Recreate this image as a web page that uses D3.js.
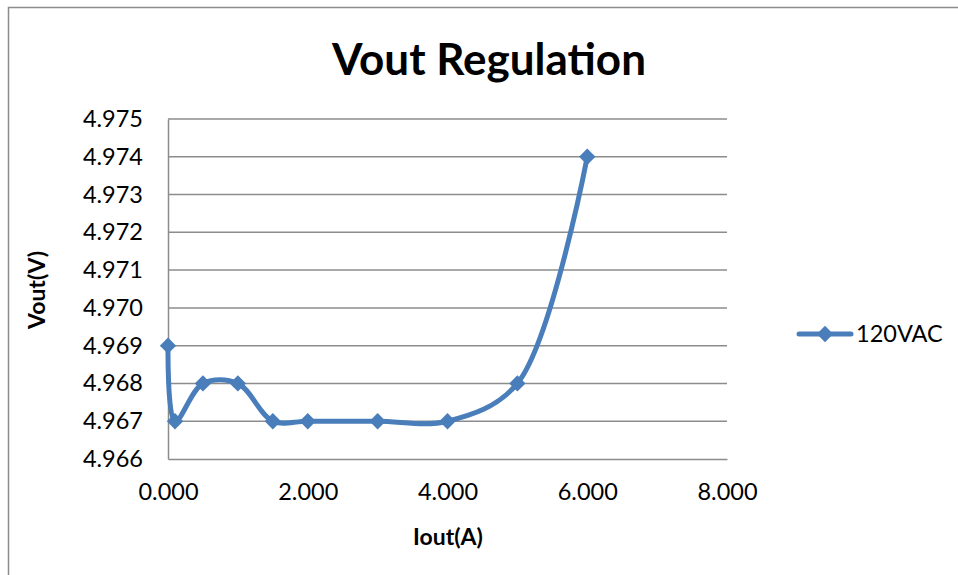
<!DOCTYPE html>
<html>
<head>
<meta charset="utf-8">
<title>Vout Regulation</title>
<script src="https://d3js.org/d3.v7.min.js"></script>
<style>
  body { margin: 0; background: #fff; }
  text { font-family: Lato, "Open Sans", sans-serif; fill: #000; }
  .grid line { stroke: #8c8c8c; stroke-width: 1.5; }
  .axis path { stroke: #8c8c8c; stroke-width: 1.5; }
  .axis line { display: none; }
</style>
</head>
<body>
<div id="chart"></div>
<script>
// data
const iout = [0, 0.1, 0.5, 1.0, 1.5, 2.0, 3.0, 4.0, 5.0, 6.0];
const vout = [4.969, 4.967, 4.968, 4.968, 4.967, 4.967, 4.967, 4.967, 4.968, 4.974];
const seriesName = "120VAC";
const xTicks = [0, 2, 4, 6, 8];
const yTicks = [4.966, 4.967, 4.968, 4.969, 4.970, 4.971, 4.972, 4.973, 4.974, 4.975];

const width = 958, height = 575;
const plot = {left: 168, right: 727, top: 119, bottom: 459};
const blue = "#4a7ebb";

const svg = d3.select("#chart").append("svg")
    .attr("width", width)
    .attr("height", height);

// outer chart border (only top and left visible in the original)
svg.append("rect")
    .attr("x", 8.5).attr("y", 7.5)
    .attr("width", 1000).attr("height", 1000)
    .attr("fill", "none")
    .attr("stroke", "#8c8c8c")
    .attr("stroke-width", 1.5);

let x = d3.scaleLinear().domain([0, 8]).range([plot.left, plot.right]);
let y = d3.scaleLinear().domain([4.966, 4.975]).range([plot.bottom, plot.top]);

// horizontal gridlines
svg.append("g")
    .attr("class", "grid")
  .selectAll("line")
    .data(yTicks.slice(1))
  .enter().append("line")
    .attr("x1", plot.left).attr("x2", plot.right)
    .attr("y1", d => y(d)).attr("y2", d => y(d));

// axes
svg.append("g")
    .attr("class", "axis")
    .attr("transform", "translate(0," + plot.bottom + ")")
    .call(d3.axisBottom(x).tickValues(xTicks).tickFormat(d3.format(".3f")).tickSize(0).tickPadding(24))
    .call(g => g.selectAll("text").style("font-size", "23.5px"));

svg.append("g")
    .attr("class", "axis")
    .attr("transform", "translate(" + plot.left + ",0)")
    .call(d3.axisLeft(y).tickValues(yTicks).tickFormat(d3.format(".3f")).tickSize(0).tickPadding(25))
    .call(g => g.selectAll("text").style("font-size", "23.5px"));

svg.selectAll(".axis .domain").attr("stroke", "#8c8c8c");

// title and axis titles
svg.append("text")
    .attr("x", 489).attr("y", 75)
    .attr("text-anchor", "middle")
    .style("font-size", "44px")
    .style("font-weight", "bold")
    .text("Vout Regulation");

svg.append("text")
    .attr("x", 448).attr("y", 545)
    .attr("text-anchor", "middle")
    .style("font-size", "23px")
    .style("font-weight", "bold")
    .text("Iout(A)");

svg.append("text")
    .attr("transform", "translate(45,290) rotate(-90)")
    .attr("text-anchor", "middle")
    .style("font-size", "23px")
    .style("font-weight", "bold")
    .text("Vout(V)");

// series
const points = iout.map((d, i) => [d, vout[i]]);

const line = d3.line()
    .x(d => x(d[0]))
    .y(d => y(d[1]))
    .curve(d3.curveCatmullRom.alpha(0.5));

svg.append("path")
    .datum(points)
    .attr("fill", "none")
    .attr("stroke", blue)
    .attr("stroke-width", 5)
    .attr("stroke-linejoin", "round")
    .attr("d", line);

const diamond = d3.symbol().type(d3.symbolDiamond2).size(170);

svg.append("g")
  .selectAll("path")
    .data(points)
  .enter().append("path")
    .attr("transform", d => "translate(" + x(d[0]) + "," + y(d[1]) + ")")
    .attr("d", diamond)
    .attr("fill", blue);

// legend
const legend = svg.append("g").attr("transform", "translate(0,334)");
legend.append("line")
    .attr("x1", 799).attr("x2", 851)
    .attr("stroke", blue)
    .attr("stroke-width", 5)
    .attr("stroke-linecap", "round");
legend.append("path")
    .attr("transform", "translate(825,0)")
    .attr("d", diamond)
    .attr("fill", blue);
legend.append("text")
    .attr("x", 856).attr("y", 0)
    .attr("dy", "0.35em")
    .style("font-size", "23.5px")
    .text(seriesName);
</script>
</body>
</html>
